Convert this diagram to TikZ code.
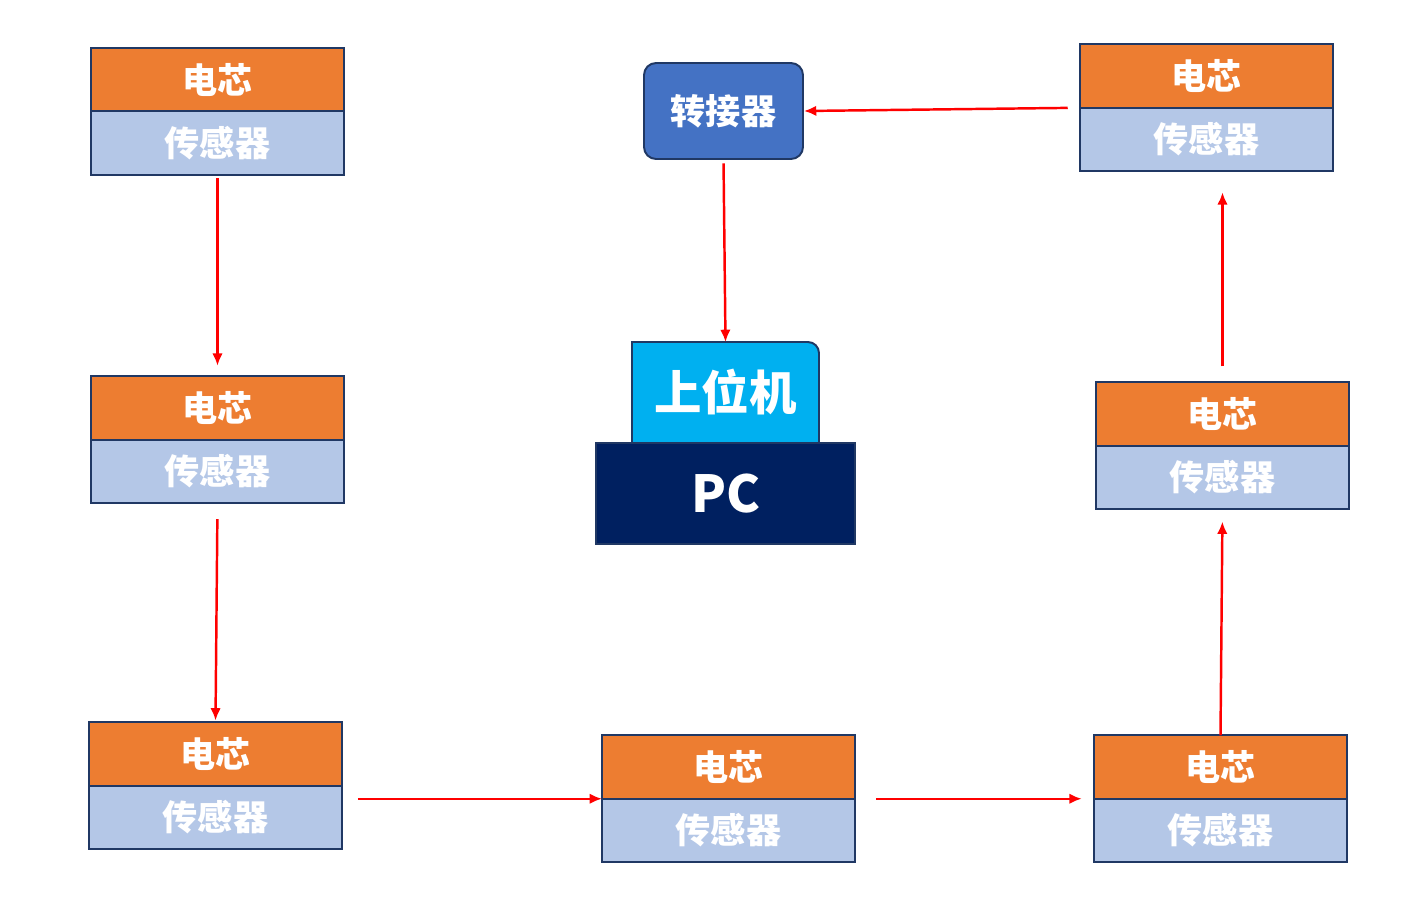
\documentclass[tikz,border=0pt]{standalone}
\usepackage{fontspec}
\usetikzlibrary{arrows.meta, positioning, backgrounds}
\newfontfamily\cjk{Noto Sans CJK SC}
\definecolor{cellorange}{RGB}{237, 125, 49}
\definecolor{senslight}{RGB}{180, 199, 231}
\definecolor{edgenavy}{RGB}{32, 56, 100}
\definecolor{adapterblue}{RGB}{68, 114, 196}
\definecolor{hostcyan}{RGB}{0, 176, 240}
\definecolor{pcnavy}{RGB}{0, 32, 96}
\definecolor{linkred}{RGB}{255, 0, 0}

\begin{document}
\begin{tikzpicture}[x=0.02cm, y=-0.02cm,
    cellbox/.style={draw=edgenavy, line width=1.1pt, fill=cellorange, text=white,
      minimum width=5.06cm, minimum height=1.27cm, inner sep=0pt, outer sep=0pt,
      font=\cjk\bfseries\fontsize{20}{20}\selectfont},
    sensbox/.style={cellbox, fill=senslight},
    link/.style={draw=linkred, line width=1.4pt, -{Latex[length=7pt, width=6pt]}}]
  \useasboundingbox (0,0) rectangle (1416,903);

  % ===== 左列 =====
  \node[cellbox] (cell1) at (217.5,79.5) {电芯};
  \node[sensbox, below=0pt of cell1] (sens1) {传感器};

  \node[cellbox] (cell2) at (217.5,408) {电芯};
  \node[sensbox, below=0pt of cell2] (sens2) {传感器};

  \node[cellbox] (cell3) at (215.5,754) {电芯};
  \node[sensbox, below=0pt of cell3] (sens3) {传感器};

  % ===== 底行 =====
  \node[cellbox] (cell4) at (728.5,767) {电芯};
  \node[sensbox, below=0pt of cell4] (sens4) {传感器};

  \node[cellbox] (cell5) at (1220.5,767) {电芯};
  \node[sensbox, below=0pt of cell5] (sens5) {传感器};

  % ===== 右列 =====
  \node[cellbox] (cell6) at (1222.5,414) {电芯};
  \node[sensbox, below=0pt of cell6] (sens6) {传感器};

  \node[cellbox] (cell7) at (1206.5,76) {电芯};
  \node[sensbox, below=0pt of cell7] (sens7) {传感器};

  % ===== 转接器与上位机 =====
  \node[draw=edgenavy, line width=1.1pt, fill=adapterblue, rounded corners=0.24cm,
    minimum width=3.18cm, minimum height=1.92cm, text=white,
    font=\cjk\bfseries\fontsize{20}{20}\selectfont] (adapter) at (723.5,111) {转接器};

  \node[minimum width=3.74cm, minimum height=2.02cm, inner sep=0pt, outer sep=0pt, text=white,
    font=\cjk\bfseries\fontsize{27}{27}\selectfont] (host) at (725.5,392.5) {上位机};
  \begin{scope}[on background layer]
    \draw[edgenavy, line width=1.1pt, fill=hostcyan]
      (host.south west) -- (host.north west)
      [rounded corners=0.22cm] -- (host.north east)
      [sharp corners] -- (host.south east) -- cycle;
  \end{scope}

  \node[draw=edgenavy, line width=1.1pt, fill=pcnavy, minimum width=5.18cm, minimum height=2.02cm,
    inner sep=0pt, outer sep=0pt, text=white,
    font=\cjk\bfseries\fontsize{29}{29}\selectfont] (pc) at (725.5,493.5) {PC};

  % 连线
  \draw[link, shorten <=2pt, shorten >=6pt] (sens1.south) -- (cell2.north);
  \draw[link, shorten <=9pt, shorten >=1pt] (sens2.south) -- (cell3.north);
  \draw[link, shorten <=9pt] (sens3.east |- cell4.south) -- (cell4.south west);
  \draw[link, shorten <=12pt, shorten >=7pt] (cell4.south east) -- (cell5.south west);
  \draw[link, shorten >=7pt] (cell5.north) -- (sens6.south);
  \draw[link, shorten <=9pt, shorten >=12pt] (cell6.north) -- (sens7.south -| cell6.north);
  \draw[link, shorten <=7pt] (cell7.south west) -- (adapter.east);
  \draw[link, shorten <=2pt] (adapter.south) -- (host.north);
\end{tikzpicture}
\end{document}
